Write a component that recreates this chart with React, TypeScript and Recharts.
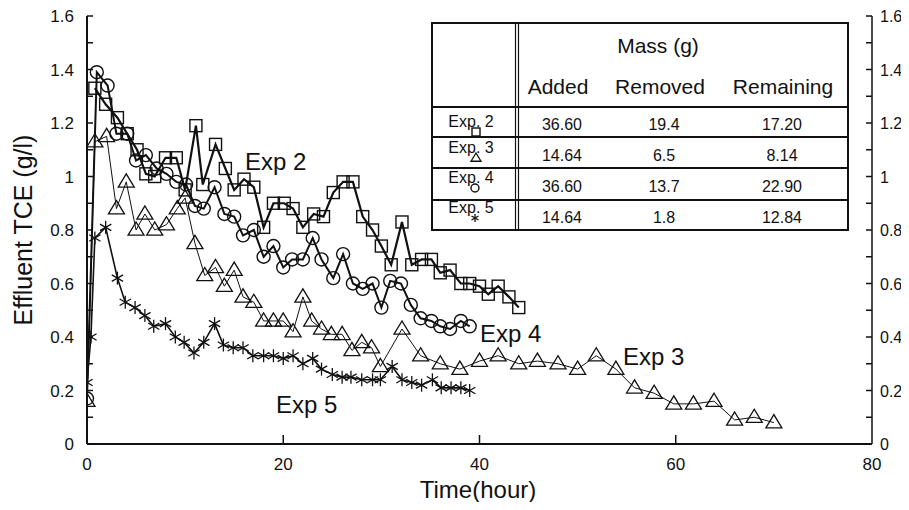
import React from "react";
import { LineChart, Line, XAxis, YAxis } from "recharts";

// Effluent TCE concentration (g/l) vs time (hour) for four experiments
const exp2Time = [0.8, 1.9, 3.1, 4.1, 5.1, 6.0, 6.9, 8.0, 9.1, 10.0, 11.1, 11.8, 13.1, 14.1, 15.0, 16.0, 17.0, 18.0, 19.0, 20.1, 21.0, 22.0, 23.1, 24.1, 25.1, 26.1, 27.1, 28.1, 29.1, 30.0, 31.0, 32.1, 33.1, 34.1, 35.1, 36.0, 37.0, 38.1, 39.0, 40.0, 40.9, 41.9, 43.0, 44.0];
const exp2Conc = [1.33, 1.27, 1.22, 1.16, 1.10, 1.01, 1.00, 1.07, 1.07, 0.95, 1.19, 0.97, 1.12, 1.03, 0.95, 0.99, 0.96, 0.81, 0.90, 0.90, 0.88, 0.81, 0.86, 0.85, 0.94, 0.98, 0.98, 0.85, 0.80, 0.74, 0.67, 0.83, 0.67, 0.69, 0.69, 0.64, 0.65, 0.60, 0.60, 0.59, 0.56, 0.59, 0.55, 0.51];

const exp3Time = [0, 0.8, 2.0, 3.0, 4.0, 5.0, 5.9, 6.9, 8.1, 9.2, 10.0, 11.0, 12.0, 13.1, 14.0, 15.0, 15.9, 17.0, 18.0, 19.0, 20.0, 21.0, 22.0, 22.9, 23.9, 24.9, 26.0, 27.0, 28.0, 29.0, 29.9, 32.1, 34.0, 36.0, 38.0, 40.0, 41.9, 44.0, 45.9, 48.0, 50.0, 51.9, 53.9, 55.8, 57.8, 59.8, 61.8, 63.9, 66.0, 68.0, 70.0];
const exp3Conc = [0.16, 1.13, 1.15, 0.88, 0.98, 0.80, 0.86, 0.80, 0.82, 0.88, 0.92, 0.75, 0.63, 0.66, 0.59, 0.65, 0.55, 0.53, 0.46, 0.46, 0.46, 0.42, 0.55, 0.46, 0.43, 0.41, 0.41, 0.35, 0.38, 0.36, 0.29, 0.43, 0.33, 0.30, 0.28, 0.31, 0.33, 0.30, 0.31, 0.30, 0.28, 0.33, 0.28, 0.21, 0.19, 0.15, 0.15, 0.16, 0.09, 0.10, 0.08];

const exp4Time = [0, 1.0, 2.1, 3.0, 4.1, 5.0, 6.0, 7.1, 8.1, 9.1, 10.1, 11.0, 11.9, 13.0, 14.0, 15.0, 15.9, 17.0, 18.0, 19.0, 20.0, 20.9, 22.0, 23.0, 23.9, 25.1, 26.1, 27.1, 28.1, 29.1, 30.0, 30.9, 32.0, 33.0, 34.0, 35.1, 36.0, 37.0, 38.1, 39.0];
const exp4Conc = [0.17, 1.39, 1.34, 1.16, 1.16, 1.06, 1.08, 1.03, 1.01, 0.98, 0.97, 0.89, 0.88, 0.96, 0.86, 0.85, 0.78, 0.80, 0.70, 0.74, 0.66, 0.69, 0.69, 0.77, 0.69, 0.62, 0.71, 0.60, 0.58, 0.60, 0.51, 0.61, 0.60, 0.52, 0.47, 0.46, 0.44, 0.43, 0.46, 0.44];

const exp5Time = [0, 0.4, 0.8, 1.9, 3.1, 3.9, 4.9, 5.9, 6.8, 8.0, 9.0, 9.9, 10.9, 11.9, 13.0, 13.9, 14.9, 15.9, 16.9, 18.0, 19.0, 20.0, 21.0, 22.0, 23.0, 23.9, 25.0, 26.0, 26.9, 28.0, 29.1, 29.9, 31.1, 32.1, 33.1, 34.1, 35.2, 36.1, 37.1, 38.1, 39.0];
const exp5Conc = [0.23, 0.40, 0.77, 0.81, 0.62, 0.53, 0.51, 0.48, 0.44, 0.45, 0.40, 0.38, 0.34, 0.38, 0.45, 0.37, 0.36, 0.36, 0.33, 0.33, 0.33, 0.32, 0.33, 0.30, 0.32, 0.28, 0.26, 0.25, 0.25, 0.24, 0.24, 0.24, 0.29, 0.24, 0.23, 0.22, 0.24, 0.21, 0.21, 0.21, 0.20];

const xTicks = [0, 20, 40, 60, 80];
const yTicks = [0, 0.1, 0.2, 0.3, 0.4, 0.5, 0.6, 0.7, 0.8, 0.9, 1, 1.1, 1.2, 1.3, 1.4, 1.5, 1.6];

// mass balance table
const tableRows = ["Exp. 2", "Exp. 3", "Exp. 4", "Exp. 5"];
const massAdded = ["36.60", "14.64", "36.60", "14.64"];
const massRemoved = ["19.4", "6.5", "13.7", "1.8"];
const massRemaining = ["17.20", "8.14", "22.90", "12.84"];

const FONT = '"Liberation Sans", Arial, Helvetica, sans-serif';
const INK = "#111";

const toPoints = (t: number[], v: number[]) => t.map((x, i) => ({ t: x, v: v[i] }));

const fmt = (v: number) => String(Math.round(v * 10) / 10);
const isMajor = (v: number) => Math.round(v * 10) % 2 === 0;

// marker shapes
const Square = ({ cx, cy, s = 6 }: any) => (
  <rect x={cx - s} y={cy - s} width={s * 2} height={s * 2} fill="none" stroke={INK} strokeWidth={1.4} />
);
const Circle = ({ cx, cy, r = 6.5 }: any) => (
  <circle cx={cx} cy={cy} r={r} fill="none" stroke={INK} strokeWidth={1.4} />
);
const Triangle = ({ cx, cy, s = 8 }: any) => (
  <polygon
    points={`${cx},${cy - s} ${cx - s},${cy + s * 0.65} ${cx + s},${cy + s * 0.65}`}
    fill="none"
    stroke={INK}
    strokeWidth={1.3}
  />
);
const Star = ({ cx, cy, s = 6.5 }: any) => {
  const dx = s * 0.87;
  const dy = s * 0.5;
  return (
    <g stroke={INK} strokeWidth={1.3}>
      <line x1={cx} y1={cy - s} x2={cx} y2={cy + s} />
      <line x1={cx - dx} y1={cy - dy} x2={cx + dx} y2={cy + dy} />
      <line x1={cx - dx} y1={cy + dy} x2={cx + dx} y2={cy - dy} />
    </g>
  );
};

const LeftTick = ({ x, y, payload }: any) => (
  <g>
    <line x1={x} x2={x + 6} y1={y} y2={y} stroke={INK} strokeWidth={1.5} />
    {isMajor(payload.value) && (
      <text x={x - 13} y={y + 6} textAnchor="end" fontSize={17} fill={INK} fontFamily={FONT}>
        {fmt(payload.value)}
      </text>
    )}
  </g>
);

const RightTick = ({ x, y, payload }: any) => (
  <g>
    <line x1={x - 6} x2={x} y1={y} y2={y} stroke={INK} strokeWidth={1.5} />
    {isMajor(payload.value) && (
      <text x={x + 8} y={y + 6} textAnchor="start" fontSize={16} fill={INK} fontFamily={FONT}>
        {fmt(payload.value)}
      </text>
    )}
  </g>
);

const BottomTick = ({ x, y, payload }: any) => (
  <g>
    {payload.value > 0 && payload.value < 80 && (
      <line x1={x} x2={x} y1={y - 9} y2={y} stroke={INK} strokeWidth={1.5} />
    )}
    <text x={x} y={y + 26} textAnchor="middle" fontSize={17} fill={INK} fontFamily={FONT}>
      {payload.value}
    </text>
  </g>
);

function MassTable() {
  const left = 432;
  const top = 23;
  const right = 848;
  const bottom = 230;
  const divider = 517;
  const rowLines = [107, 137, 168, 200];
  const labelBase = [127, 153, 183, 213];
  const dataBase = [130, 161, 192, 223];
  const markY = [132, 158, 188, 218];
  const markers = [
    <Square key="m0" cx={476} cy={markY[0]} s={4} />,
    <Triangle key="m1" cx={476} cy={markY[1]} s={5} />,
    <Circle key="m2" cx={475} cy={markY[2]} r={4} />,
    <Star key="m3" cx={475} cy={markY[3]} s={4} />,
  ];
  return (
    <g fontFamily={FONT} fill={INK}>
      <rect x={left} y={top} width={right - left} height={bottom - top} fill="#fff" stroke={INK} strokeWidth={2} />
      <line x1={divider - 1.5} x2={divider - 1.5} y1={top} y2={bottom} stroke={INK} strokeWidth={1.2} />
      <line x1={divider + 1.5} x2={divider + 1.5} y1={top} y2={bottom} stroke={INK} strokeWidth={1.2} />
      {rowLines.map((ry) => (
        <line key={ry} x1={left} x2={right} y1={ry} y2={ry} stroke={INK} strokeWidth={2} />
      ))}
      <text x={658} y={53} textAnchor="middle" fontSize={21}>Mass (g)</text>
      <text x={558} y={94} textAnchor="middle" fontSize={21}>Added</text>
      <text x={660} y={94} textAnchor="middle" fontSize={21}>Removed</text>
      <text x={783} y={94} textAnchor="middle" fontSize={21}>Remaining</text>
      {tableRows.map((name, i) => (
        <g key={name}>
          <text x={471} y={labelBase[i]} textAnchor="middle" fontSize={16}>{name}</text>
          {markers[i]}
          <text x={562} y={dataBase[i]} textAnchor="middle" fontSize={16}>{massAdded[i]}</text>
          <text x={664} y={dataBase[i]} textAnchor="middle" fontSize={16}>{massRemoved[i]}</text>
          <text x={782} y={dataBase[i]} textAnchor="middle" fontSize={16}>{massRemaining[i]}</text>
        </g>
      ))}
    </g>
  );
}

export default function App() {
  const W = 909;
  const H = 510;
  return (
    <div style={{ position: "relative", width: W, height: H, margin: -8, fontFamily: FONT, background: "#fff" }}>
      <LineChart width={W} height={H} margin={{ top: 16, right: 0, bottom: 36, left: 0 }}>
        <XAxis
          type="number"
          dataKey="t"
          domain={[0, 80]}
          ticks={xTicks}
          interval={0}
          height={30}
          tickSize={0}
          tickMargin={0}
          tick={BottomTick}
          tickLine={false}
          axisLine={{ stroke: INK, strokeWidth: 2 }}
          allowDataOverflow
        />
        <YAxis
          type="number"
          domain={[0, 1.6]}
          ticks={yTicks}
          interval={0}
          width={87}
          tickSize={0}
          tickMargin={0}
          tick={LeftTick}
          tickLine={false}
          axisLine={{ stroke: INK, strokeWidth: 2 }}
          allowDataOverflow
        />
        <YAxis
          yAxisId="right"
          orientation="right"
          type="number"
          domain={[0, 1.6]}
          ticks={yTicks}
          interval={0}
          width={37}
          tickSize={0}
          tickMargin={0}
          tick={RightTick}
          tickLine={false}
          axisLine={{ stroke: INK, strokeWidth: 1.5 }}
          allowDataOverflow
        />
        <Line
          data={toPoints(exp3Time, exp3Conc)}
          dataKey="v"
          type="linear"
          stroke={INK}
          strokeWidth={1}
          dot={(p: any) => <Triangle key={`e3-${p.index}`} cx={p.cx} cy={p.cy} />}
          activeDot={false}
          isAnimationActive={false}
        />
        <Line
          data={toPoints(exp5Time, exp5Conc)}
          dataKey="v"
          type="linear"
          stroke={INK}
          strokeWidth={1.6}
          dot={(p: any) => <Star key={`e5-${p.index}`} cx={p.cx} cy={p.cy} />}
          activeDot={false}
          isAnimationActive={false}
        />
        <Line
          data={toPoints(exp4Time, exp4Conc)}
          dataKey="v"
          type="linear"
          stroke={INK}
          strokeWidth={2}
          dot={(p: any) => <Circle key={`e4-${p.index}`} cx={p.cx} cy={p.cy} />}
          activeDot={false}
          isAnimationActive={false}
        />
        <Line
          data={toPoints(exp2Time, exp2Conc)}
          dataKey="v"
          type="linear"
          stroke={INK}
          strokeWidth={2.2}
          dot={(p: any) => <Square key={`e2-${p.index}`} cx={p.cx} cy={p.cy} />}
          activeDot={false}
          isAnimationActive={false}
        />
      </LineChart>
      <svg
        width={W}
        height={H}
        style={{ position: "absolute", left: 0, top: 0, pointerEvents: "none" }}
      >
        <MassTable />
        <g fontFamily={FONT} fill={INK}>
          <text x={245} y={170} fontSize={24}>Exp 2</text>
          <text x={480} y={342} fontSize={24}>Exp 4</text>
          <text x={623} y={365} fontSize={24}>Exp 3</text>
          <text x={276} y={413} fontSize={24}>Exp 5</text>
          <text x={478} y={498} textAnchor="middle" fontSize={24}>Time(hour)</text>
          <text transform="translate(32,230) rotate(-90)" textAnchor="middle" fontSize={25}>
            Effluent TCE (g/l)
          </text>
        </g>
      </svg>
    </div>
  );
}
